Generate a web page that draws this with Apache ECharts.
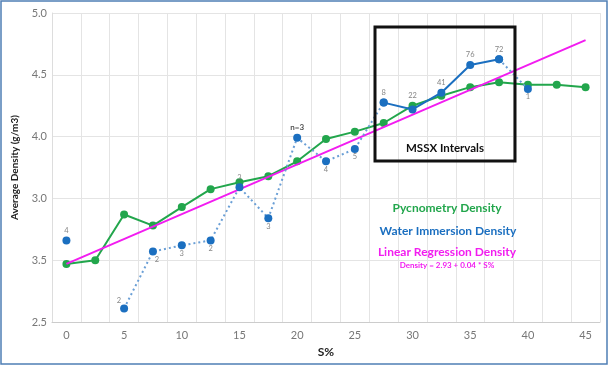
<!DOCTYPE html>
<html><head><meta charset="utf-8">
<script src="https://cdn.jsdelivr.net/npm/echarts@6/dist/echarts.min.js"></script>
<style>html,body{margin:0;padding:0;background:#fff}#c{width:609px;height:366px}</style>
</head><body><div id="c"></div>
<script>
const categories = ['0','2.5','5','7.5','10','12.5','15','17.5','20','22.5','25','27.5','30','32.5','35','37.5','40','42.5','45'];
const pycnometry = [2.97,3.00,3.37,3.28,3.43,3.575,3.63,3.68,3.80,3.98,4.04,4.11,4.25,4.33,4.40,4.44,4.42,4.42,4.40];
const waterImmersion = [3.16,null,2.61,3.07,3.12,3.16,3.59,3.34,3.99,3.80,3.90,4.275,4.22,4.355,4.58,4.625,4.385,null,null];
const sampleCounts = ['4',null,'2','2','3','2','3','3','n=3','4','5','8','22','41','76','72','1',null,null];
const regression = [2.97,null,null,null,null,null,null,null,null,null,null,null,null,null,null,null,null,null,4.78];
const yTickValues = [2.5,3.0,3.5,4.0,4.5,5.0];
const yTickLabels = ['2.5','3.5','3.0','4.0','4.5','5.0'];

const GREEN='#22a64c', BLUE='#1b6fc0', MAG='#f21cf0';
const solidIdx = [11,12,13,14,15];
const dottedBreak = [12,13,14];
const below = [3,4,5,7,9,10,16];

const blueDotted = waterImmersion.map((v,i)=> dottedBreak.includes(i)?null:v);
const blueSolid = waterImmersion.map((v,i)=> solidIdx.includes(i)?v:null);

const labelData = waterImmersion.map((v,i)=>{
  if(v==null||sampleCounts[i]==null) return null;
  let lab = {show:true, formatter: sampleCounts[i], fontSize:7.5, color:'#666', fontFamily:'Lato'};
  if(below.includes(i)){ lab.position='bottom'; lab.distance=4; }
  else if(i===2){ lab.position='left'; lab.offset=[0,-8]; lab.distance=3; }
  else { lab.position='top'; lab.distance=6; }
  if(i===3){ lab.offset=[4,0]; }
  if(i===12){ lab.distance=10; }
  if(sampleCounts[i]==='n=3'){ lab.fontSize=8; lab.fontWeight='bold'; lab.color='#222'; }
  return {value:v, label:lab};
});

const chart = echarts.init(document.getElementById('c'), null, {renderer:'canvas'});
chart.setOption({
  animation:false,
  backgroundColor:'#fff',
  grid:{left:52, right:9, top:13, bottom:44},
  xAxis:{type:'category', data:categories, boundaryGap:true,
    name:'S%', nameLocation:'middle', nameGap:23,
    nameTextStyle:{fontWeight:'bold', fontSize:12, color:'#222', fontFamily:'Lato'},
    axisLine:{lineStyle:{color:'#ccc'}}, axisTick:{show:false},
    axisLabel:{interval:1, color:'#777', fontSize:11, margin:8, fontFamily:'Lato'},
    splitLine:{show:true, interval:0, lineStyle:{color:'#e4e4e4'}}},
  yAxis:{type:'value', min:2.5, max:5, interval:0.5,
    name:'Average Density (g/m3)', nameLocation:'middle', nameGap:32,
    nameTextStyle:{fontWeight:'bold', fontSize:10, color:'#222', fontFamily:'Lato'},
    axisLine:{show:true, lineStyle:{color:'#ddd'}}, axisTick:{show:false},
    axisLabel:{color:'#777', fontSize:11, margin:5, fontFamily:'Lato',
      formatter:v=>{const k=yTickValues.findIndex(t=>Math.abs(t-v)<1e-6);return k>=0?yTickLabels[k]:'';}},
    splitLine:{lineStyle:{color:'#e4e4e4'}}},
  series:[
    {type:'line', name:'Pycnometry Density', data:pycnometry, symbol:'circle', symbolSize:8,
      lineStyle:{color:GREEN,width:2}, itemStyle:{color:GREEN}, z:2},
    {type:'line', name:'Linear Regression Density', data:regression, connectNulls:true, showSymbol:false, symbol:'none',
      lineStyle:{color:MAG,width:2}, z:3},
    {type:'line', name:'Water Immersion dotted', data:blueDotted, symbol:'circle', symbolSize:8,
      lineStyle:{color:'#6a9fd6',width:2,type:[2,3]}, itemStyle:{color:BLUE}, z:4},
    {type:'line', name:'Water Immersion Density', data:blueSolid, symbol:'circle', symbolSize:8,
      lineStyle:{color:BLUE,width:2}, itemStyle:{color:BLUE}, z:5},
    {type:'scatter', name:'counts', data:labelData, symbolSize:0.01, itemStyle:{color:'transparent'}, z:6}
  ],
  graphic:[
    {type:'rect', shape:{x:1,y:1,width:606,height:363}, style:{fill:null, stroke:'#4f7fb5', lineWidth:1.5}, z:100},
    {type:'rect', shape:{x:375,y:27,width:140,height:134}, style:{fill:null, stroke:'#111', lineWidth:3}, z:100},
    {type:'text', x:445, y:148, style:{text:'MSSX Intervals', font:'bold 11.5px Lato', fill:'#111', textAlign:'center', textVerticalAlign:'middle'}, z:100},
    {type:'text', x:447, y:208, style:{text:'Pycnometry Density', font:'bold 12px Lato', fill:GREEN, textAlign:'center', textVerticalAlign:'middle'}, z:100},
    {type:'text', x:448, y:231, style:{text:'Water Immersion Density', font:'bold 12px Lato', fill:BLUE, textAlign:'center', textVerticalAlign:'middle'}, z:100},
    {type:'text', x:447, y:252, style:{text:'Linear Regression Density', font:'bold 12px Lato', fill:MAG, textAlign:'center', textVerticalAlign:'middle'}, z:100},
    {type:'text', x:447, y:265, style:{text:'Density = 2.93 + 0.04 * S%', font:'bold 8px Lato', fill:MAG, textAlign:'center', textVerticalAlign:'middle'}, z:100}
  ]
});
</script></body></html>
